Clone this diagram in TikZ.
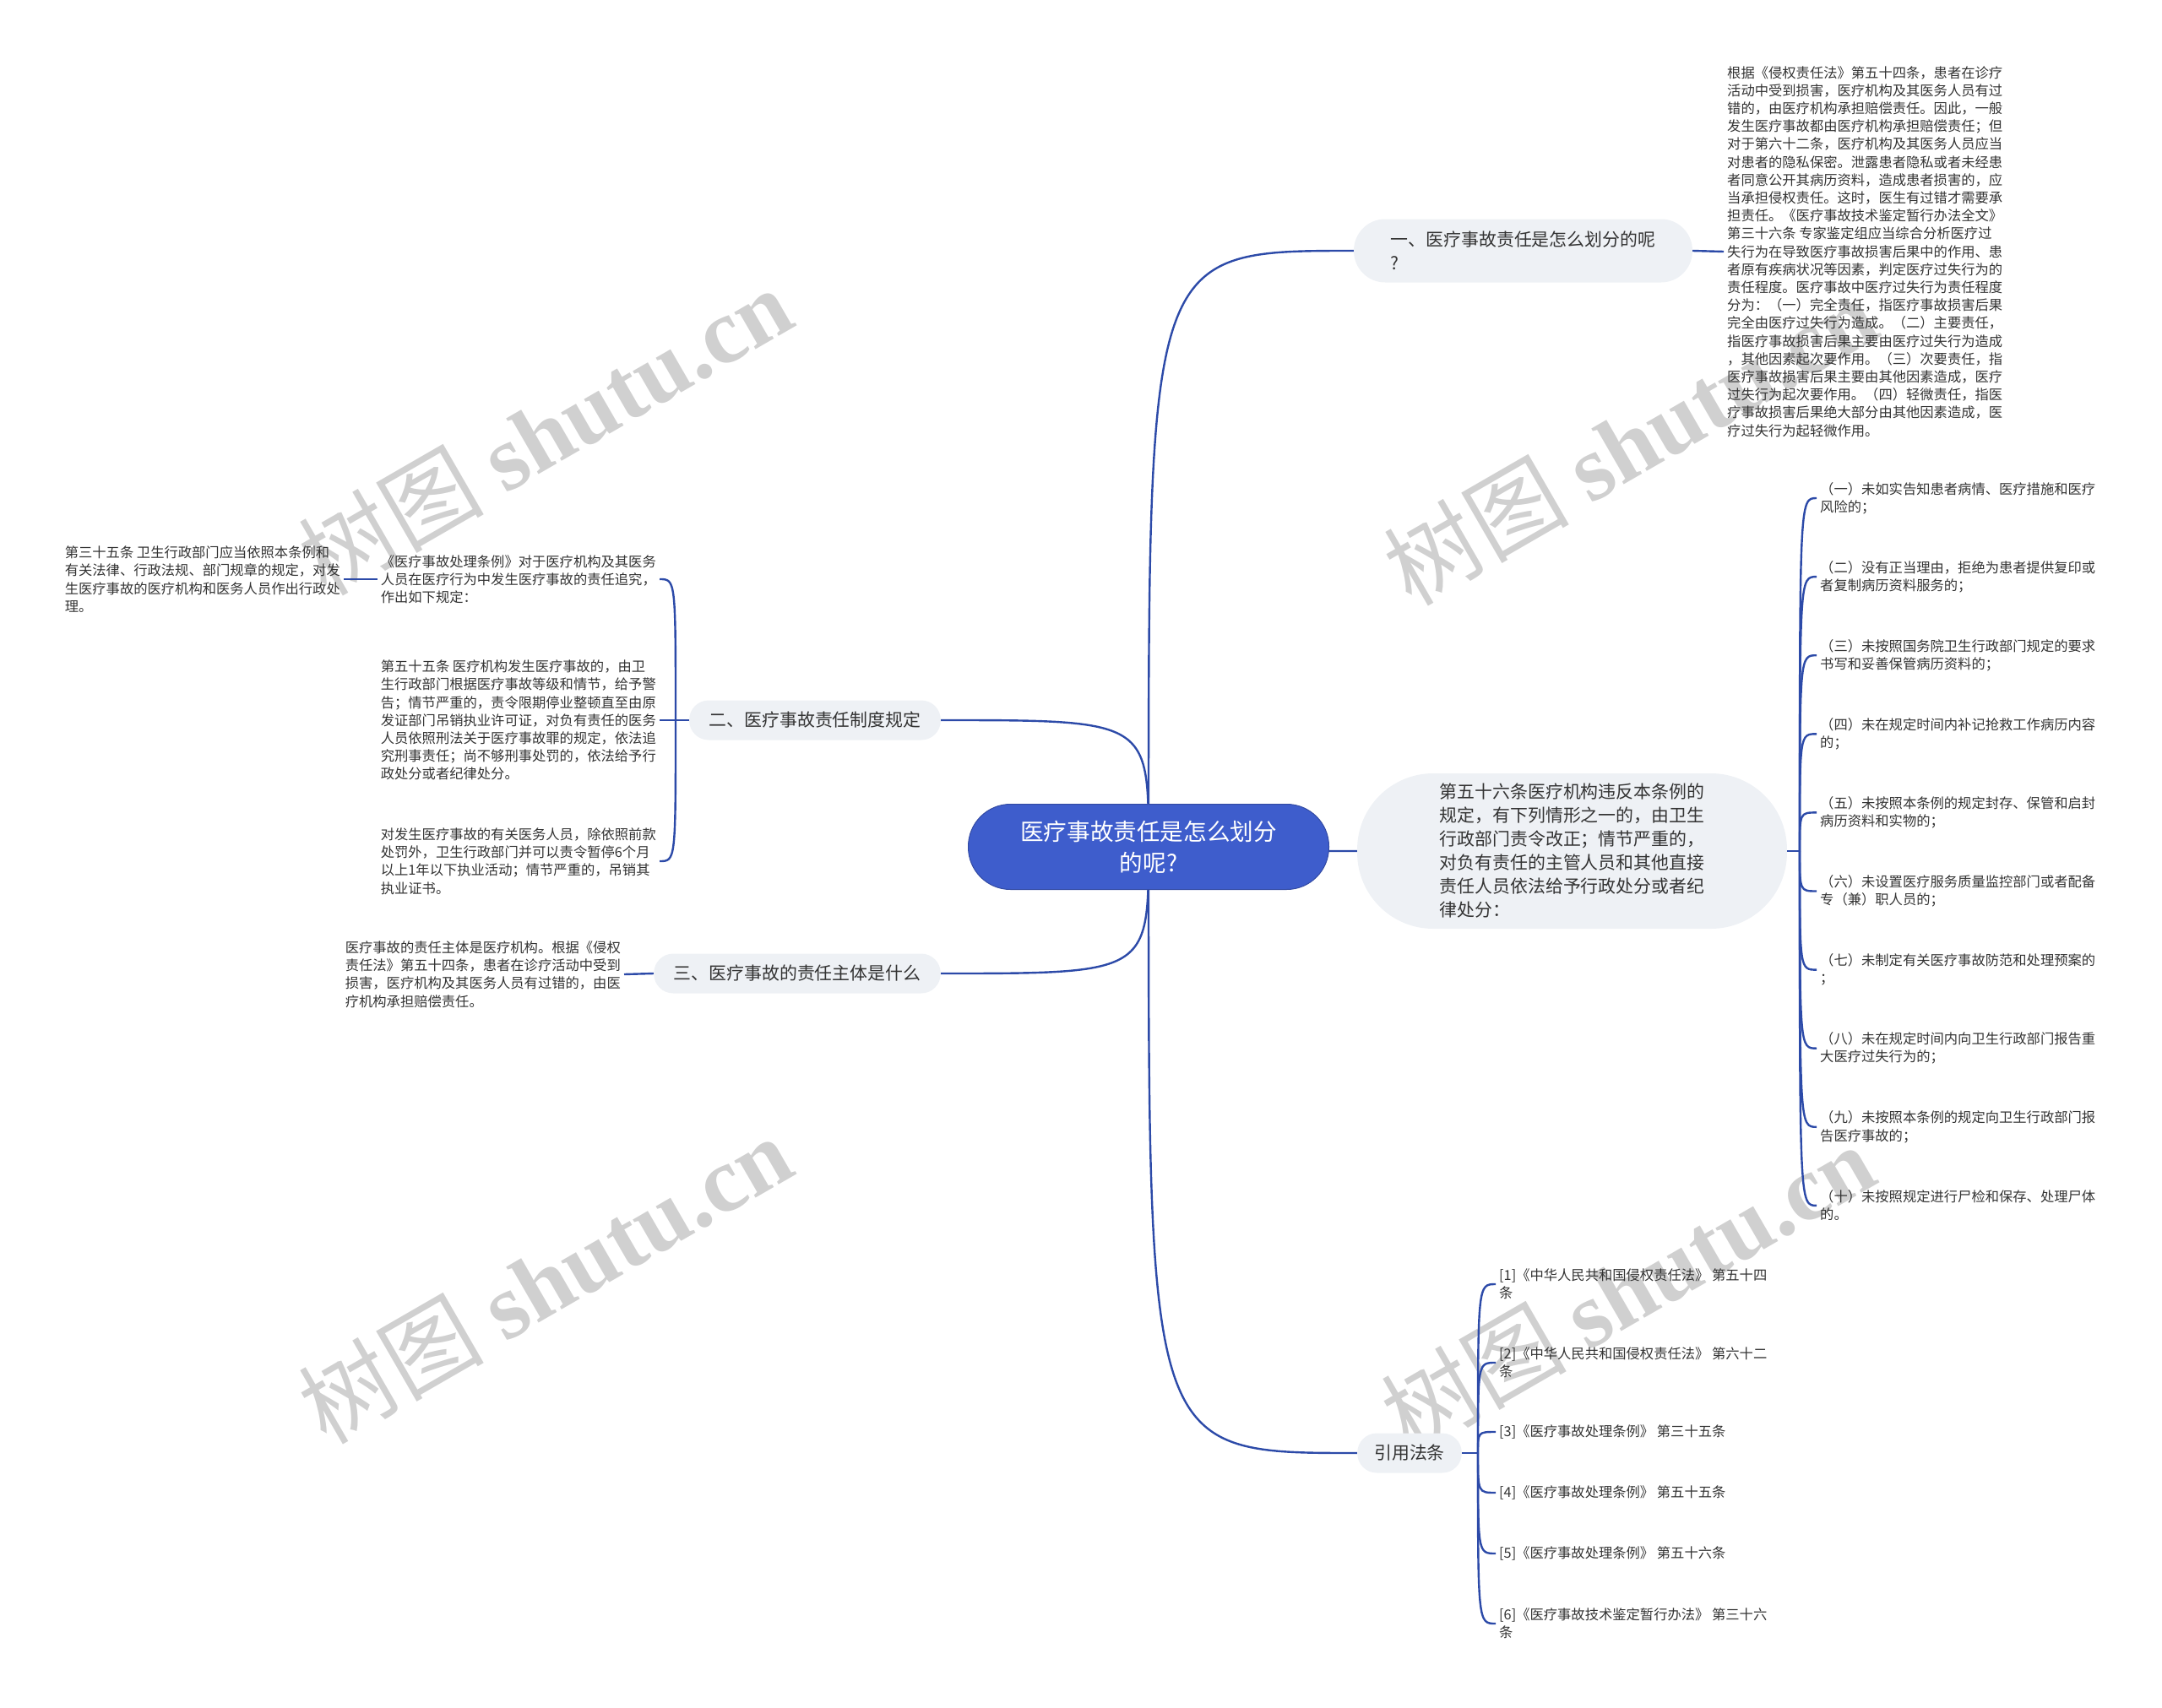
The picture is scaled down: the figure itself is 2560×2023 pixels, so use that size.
\documentclass[tikz,border=0pt]{standalone}
\usepackage{fontspec}
\setmainfont{Noto Sans CJK SC}
\newfontfamily\markfont{Liberation Serif}
\usetikzlibrary{backgrounds}
\definecolor{rootblue}{HTML}{3E5DCC}
\definecolor{linkblue}{HTML}{2C4AA8}
\definecolor{topicgray}{HTML}{EEF1F5}
\definecolor{inkgray}{HTML}{333333}
\definecolor{markgray}{HTML}{D0D0D0}
\begin{document}
\begin{tikzpicture}[x=1pt, y=-1pt,
  root/.style={fill=rootblue, draw=rootblue!80!black, line width=1pt, text=white,
    rounded corners=50pt, minimum width=427pt, minimum height=101pt,
    align=center, font=\fontsize{27.6}{36.8}\selectfont},
  topic/.style={fill=topicgray, text=inkgray, rounded corners=23pt, inner xsep=23.5pt,
    inner ysep=0pt, minimum height=47pt, align=left, font=\fontsize{20.9}{28}\selectfont},
  leaf/.style={text=inkgray, inner sep=4pt, align=left, font=\fontsize{16.3}{21.2}\selectfont},
  wmark/.style={text=markgray, rotate=30, font=\fontsize{110}{110}\selectfont},
  link/.style={draw=linkblue, line width=2.4pt,
    to path={.. controls (\tikztostart |- \tikztotarget) .. (\tikztotarget)}}]
  \useasboundingbox (0,0) rectangle (2560,2023);

  \node[root] (root) at (1360,1003) {医疗事故责任是怎么划分\\的呢?};

  \node[topic, rounded corners=37pt, inner xsep=43.7pt, minimum height=75pt] (duty) at (1803.5,297)
    {一、医疗事故责任是怎么划分的呢\\?};
  \node[topic] (system) at (965,853) {二、医疗事故责任制度规定};
  \node[topic] (subject) at (944,1153) {三、医疗事故的责任主体是什么};
  \node[topic, rounded corners=90pt, inner xsep=97.7pt, minimum height=184pt] (art56) at (1861.5,1008)
    {第五十六条医疗机构违反本条例的\\规定，有下列情形之一的，由卫生\\行政部门责令改正；情节严重的，\\对负有责任的主管人员和其他直接\\责任人员依法给予行政处分或者纪\\律处分：};
  \node[topic, inner xsep=20pt] (cite) at (1669,1721) {引用法条};

  \node[leaf, anchor=west] (dutynote) at (2041,298)
    {根据《侵权责任法》第五十四条，患者在诊疗\\活动中受到损害，医疗机构及其医务人员有过\\错的，由医疗机构承担赔偿责任。因此，一般\\发生医疗事故都由医疗机构承担赔偿责任；但\\对于第六十二条，医疗机构及其医务人员应当\\对患者的隐私保密。泄露患者隐私或者未经患\\者同意公开其病历资料，造成患者损害的，应\\当承担侵权责任。这时，医生有过错才需要承\\担责任。《医疗事故技术鉴定暂行办法全文》\\第三十六条 专家鉴定组应当综合分析医疗过\\失行为在导致医疗事故损害后果中的作用、患\\者原有疾病状况等因素，判定医疗过失行为的\\责任程度。医疗事故中医疗过失行为责任程度\\分为：（一）完全责任，指医疗事故损害后果\\完全由医疗过失行为造成。（二）主要责任，\\指医疗事故损害后果主要由医疗过失行为造成\\，其他因素起次要作用。（三）次要责任，指\\医疗事故损害后果主要由其他因素造成，医疗\\过失行为起次要作用。（四）轻微责任，指医\\疗事故损害后果绝大部分由其他因素造成，医\\疗过失行为起轻微作用。};

  \node[leaf, anchor=east] (sysa) at (781,686)
    {《医疗事故处理条例》对于医疗机构及其医务\\人员在医疗行为中发生医疗事故的责任追究，\\作出如下规定：};
  \node[leaf, anchor=east] (sysaa) at (407,686)
    {第三十五条 卫生行政部门应当依照本条例和\\有关法律、行政法规、部门规章的规定，对发\\生医疗事故的医疗机构和医务人员作出行政处\\理。};
  \node[leaf, anchor=east] (sysb) at (781,853)
    {第五十五条 医疗机构发生医疗事故的，由卫\\生行政部门根据医疗事故等级和情节，给予警\\告；情节严重的，责令限期停业整顿直至由原\\发证部门吊销执业许可证，对负有责任的医务\\人员依照刑法关于医疗事故罪的规定，依法追\\究刑事责任；尚不够刑事处罚的，依法给予行\\政处分或者纪律处分。};
  \node[leaf, anchor=east] (sysc) at (781,1020)
    {对发生医疗事故的有关医务人员，除依照前款\\处罚外，卫生行政部门并可以责令暂停6个月\\以上1年以下执业活动；情节严重的，吊销其\\执业证书。};
  \node[leaf, anchor=east] (subjnote) at (739,1154)
    {医疗事故的责任主体是医疗机构。根据《侵权\\责任法》第五十四条，患者在诊疗活动中受到\\损害，医疗机构及其医务人员有过错的，由医\\疗机构承担赔偿责任。};

  \foreach \t [count=\i] in {
      {（一）未如实告知患者病情、医疗措施和医疗\\风险的；},
      {（二）没有正当理由，拒绝为患者提供复印或\\者复制病历资料服务的；},
      {（三）未按照国务院卫生行政部门规定的要求\\书写和妥善保管病历资料的；},
      {（四）未在规定时间内补记抢救工作病历内容\\的；},
      {（五）未按照本条例的规定封存、保管和启封\\病历资料和实物的；},
      {（六）未设置医疗服务质量监控部门或者配备\\专（兼）职人员的；},
      {（七）未制定有关医疗事故防范和处理预案的\\；},
      {（八）未在规定时间内向卫生行政部门报告重\\大医疗过失行为的；},
      {（九）未按照本条例的规定向卫生行政部门报\\告医疗事故的；},
      {（十）未按照规定进行尸检和保存、处理尸体\\的。}}
    \node[leaf, anchor=west] (item\i) at (2151,{590+93.1*(\i-1)}) {\t};

  \foreach \y/\t [count=\i] in {
      1521/{[1]《中华人民共和国侵权责任法》 第五十四\\条},
      1614/{[2]《中华人民共和国侵权责任法》 第六十二\\条},
      1696/{[3]《医疗事故处理条例》 第三十五条},
      1768/{[4]《医疗事故处理条例》 第五十五条},
      1840/{[5]《医疗事故处理条例》 第五十六条},
      1923/{[6]《医疗事故技术鉴定暂行办法》 第三十六\\条}}
    \node[leaf, anchor=west] (ref\i) at (1771,\y) {\t};

  \coordinate (sysj) at (800,853);
  \coordinate (artj) at (2131,1008);
  \coordinate (citej) at (1750,1721);

  \begin{scope}[on background layer]
    \node[wmark] (wm1) at (645,510) {树图 {\markfont\bfseries shutu.cn}};
    \node[wmark] (wm2) at (1930,522) {树图 {\markfont\bfseries shutu.cn}};
    \node[wmark] (wm3) at (645,1515) {树图 {\markfont\bfseries shutu.cn}};
    \node[wmark] (wm4) at (1927,1525) {树图 {\markfont\bfseries shutu.cn}};

    \draw[link] (root.center) to (duty.west);
    \draw[link] (root.center) to (system.east);
    \draw[link] (root.center) to (subject.east);
    \draw[link] (root.center) to (art56.west);
    \draw[link] (root.center) to (cite.west);

    \draw[link] (duty.east) -- (dutynote.west);
    \draw[link] (system.west) -- (sysj);
    \draw[link] (sysj) to (sysa.east);
    \draw[link] (sysj) to (sysb.east);
    \draw[link] (sysj) to (sysc.east);
    \draw[link] (sysa.west) -- (sysaa.east);
    \draw[link] (subject.west) -- (subjnote.east);

    \draw[link] (art56.east) -- (artj);
    \foreach \i in {1,...,10}
      \draw[link] (artj) to (item\i.west);
    \draw[link] (cite.east) -- (citej);
    \foreach \i in {1,...,6}
      \draw[link] (citej) to (ref\i.west);
  \end{scope}
\end{tikzpicture}
\end{document}
